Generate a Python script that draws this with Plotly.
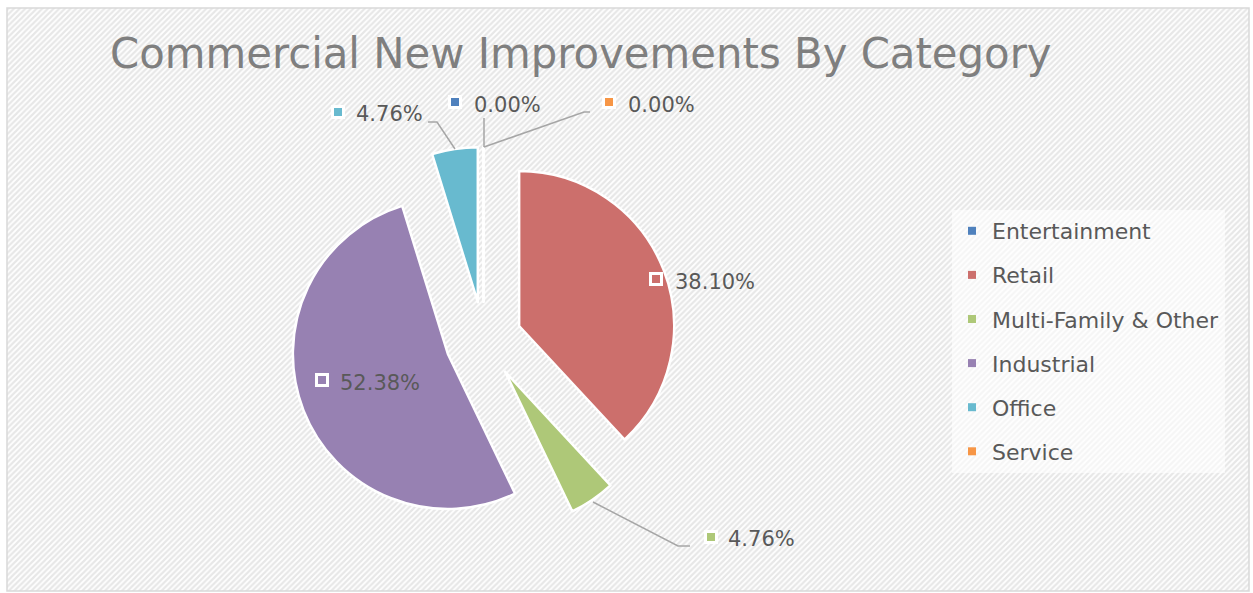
import plotly.graph_objects as go

# ---------------- data ----------------
categories = ["Entertainment", "Retail", "Multi-Family & Other", "Industrial", "Office", "Service"]
shares = [0.00, 38.10, 4.76, 52.38, 4.76, 0.00]
colors = ["#4F81BD", "#CC6F6C", "#AEC878", "#9781B2", "#68BACF", "#F79646"]
title_text = "Commercial New Improvements By Category"

# ---------------- geometry (pixels) ----------------
W, H = 1253, 593
CX, CY = 483.5, 340
R = 155
PULL = 0.247
half = R * (1 + PULL)
dom_x = [(CX - half) / W, (CX + half) / W]
dom_y = [1 - (CY + half) / H, 1 - (CY - half) / H]

# label placement: square centre, text start, text centre-y
label_pos = {
    "Entertainment": (455, 102, 472, 105),
    "Retail": (656, 279, 673, 282),
    "Multi-Family & Other": (711, 537, 726, 539),
    "Industrial": (322, 380, 338, 383),
    "Office": (338, 112, 354, 114),
    "Service": (609, 102, 626, 105),
}
leaders = {
    "Office": "M428,122 L437,122 L455,149",
    "Entertainment": "M484,118 L484,147",
    "Service": "M590,112 L584,112 L484,147",
    "Multi-Family & Other": "M593,502 L678,546 L690,546",
}

FONT = "DejaVu Sans"
TXT = "#595959"

fig = go.Figure()

# hatched chart-area background
fig.add_trace(go.Scatter(
    x=[7, 1249, 1249, 7, 7], y=[8, 8, 591, 591, 8],
    mode="lines", fill="toself",
    fillpattern=dict(shape="/", fgcolor="#CFCFCF", bgcolor="white", size=4, solidity=0.55),
    line=dict(width=0), hoverinfo="skip", showlegend=False,
))

# legend entries
for cat, col in zip(categories, colors):
    fig.add_trace(go.Scatter(
        x=[None], y=[None], mode="markers", name=cat, legendgroup=cat,
        marker=dict(symbol="square", size=8, color=col), showlegend=True,
    ))

# the pie
fig.add_trace(go.Pie(
    labels=categories, values=shares, sort=False, direction="clockwise", rotation=0,
    pull=[PULL] * len(shares),
    marker=dict(colors=colors, line=dict(color="white", width=2.5)),
    textinfo="none", hoverinfo="label+percent", showlegend=False,
    domain=dict(x=dom_x, y=dom_y),
))

shapes = []
annotations = []
total = sum(shares)
for cat, val, col in zip(categories, shares, colors):
    sx, sy, tx, ty = label_pos[cat]
    shapes.append(dict(
        type="rect", xref="x", yref="y", xsizemode="pixel", ysizemode="pixel",
        xanchor=sx, yanchor=sy, x0=-5.5, x1=5.5, y0=-5.5, y1=5.5,
        fillcolor=col, line=dict(color="white", width=3), layer="above",
    ))
    annotations.append(dict(
        x=tx, y=ty, xref="x", yref="y", xanchor="left", yanchor="middle",
        text=f"{val / total * 100:.2f}%", showarrow=False,
        font=dict(family=FONT, size=21, color=TXT),
    ))

for cat, path in leaders.items():
    shapes.append(dict(type="path", xref="x", yref="y", path=path,
                       line=dict(color="#A6A6A6", width=1.5), layer="above"))

# chart frame
shapes.append(dict(type="rect", xref="x", yref="y", x0=7, x1=1249, y0=8, y1=591,
                   line=dict(color="#D9D9D9", width=1.5), layer="above"))

fig.update_layout(
    width=W, height=H, autosize=False,
    margin=dict(l=0, r=0, t=0, b=0),
    paper_bgcolor="white", plot_bgcolor="rgba(0,0,0,0)",
    xaxis=dict(range=[0, W], visible=False, fixedrange=True, domain=[0, 1]),
    yaxis=dict(range=[H, 0], visible=False, fixedrange=True, domain=[0, 1]),
    title=dict(text=title_text, x=110 / W, xanchor="left", xref="container",
               y=1 - 53 / H, yanchor="middle", yref="container",
               font=dict(family=FONT, size=41.8, color="#7F7F7F")),
    legend=dict(x=952 / W, xanchor="left", y=1 - 210 / H, yanchor="top",
                bgcolor="rgba(255,255,255,0.6)", borderwidth=0,
                font=dict(family=FONT, size=22, color=TXT),
                tracegroupgap=12.5, itemclick=False, itemdoubleclick=False),
    shapes=shapes, annotations=annotations,
    showlegend=True,
)

fig.write_html("out.html", config={"displayModeBar": False},
               post_script="document.body.style.margin='0';document.body.style.overflow='hidden';")
